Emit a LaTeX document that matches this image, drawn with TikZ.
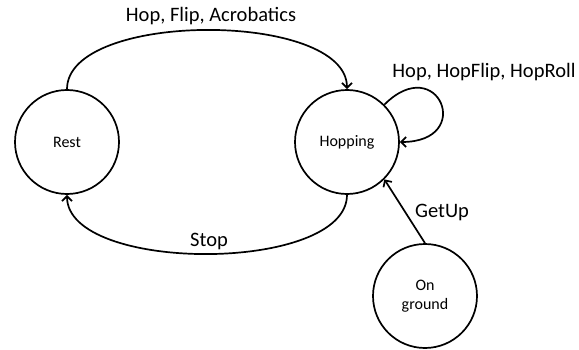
\documentclass[tikz,border=0pt]{standalone}
\usepackage{fontspec}
\setmainfont{Carlito}
\usetikzlibrary{arrows.meta}

\begin{document}
\begin{tikzpicture}[x=1pt,y=1pt,
    state/.style={circle,draw,line width=1.7pt,minimum size=104pt,inner sep=0pt,
      align=center,font=\fontsize{16}{19}\selectfont},
    lbl/.style={inner sep=0pt,font=\fontsize{20.5}{24}\selectfont},
    trans/.style={line width=1.7pt,-{Straight Barb[length=5pt,width=10pt]}}]
      \useasboundingbox (0,0) rectangle (579,349);

      \path
      (67,207) node[state](rest) {Rest}
      (347,207) node[state](hop) {Hopping}
      (425,53) node[state](ground) {On\\ground}
      ;
      \path
      (211,333) node[lbl](acro) {Hop, Flip, Acrobatics}
      (484,277) node[lbl](hops) {Hop, HopFlip, HopRoll}
      (209,108) node[lbl](stop) {Stop}
      (442,137) node[lbl](getup) {GetUp}
      ;

      \draw[trans] (rest) to[out=90,in=90,looseness=0.72] (hop);
      \draw[trans] (hop.45) to[out=45,in=0,looseness=4.8] (hop.east);
      \draw[trans] (hop) to[out=-90,in=-90,looseness=0.72] (rest);
      \draw[trans] (ground.north) -- (hop.-45);
    \end{tikzpicture}
\end{document}
